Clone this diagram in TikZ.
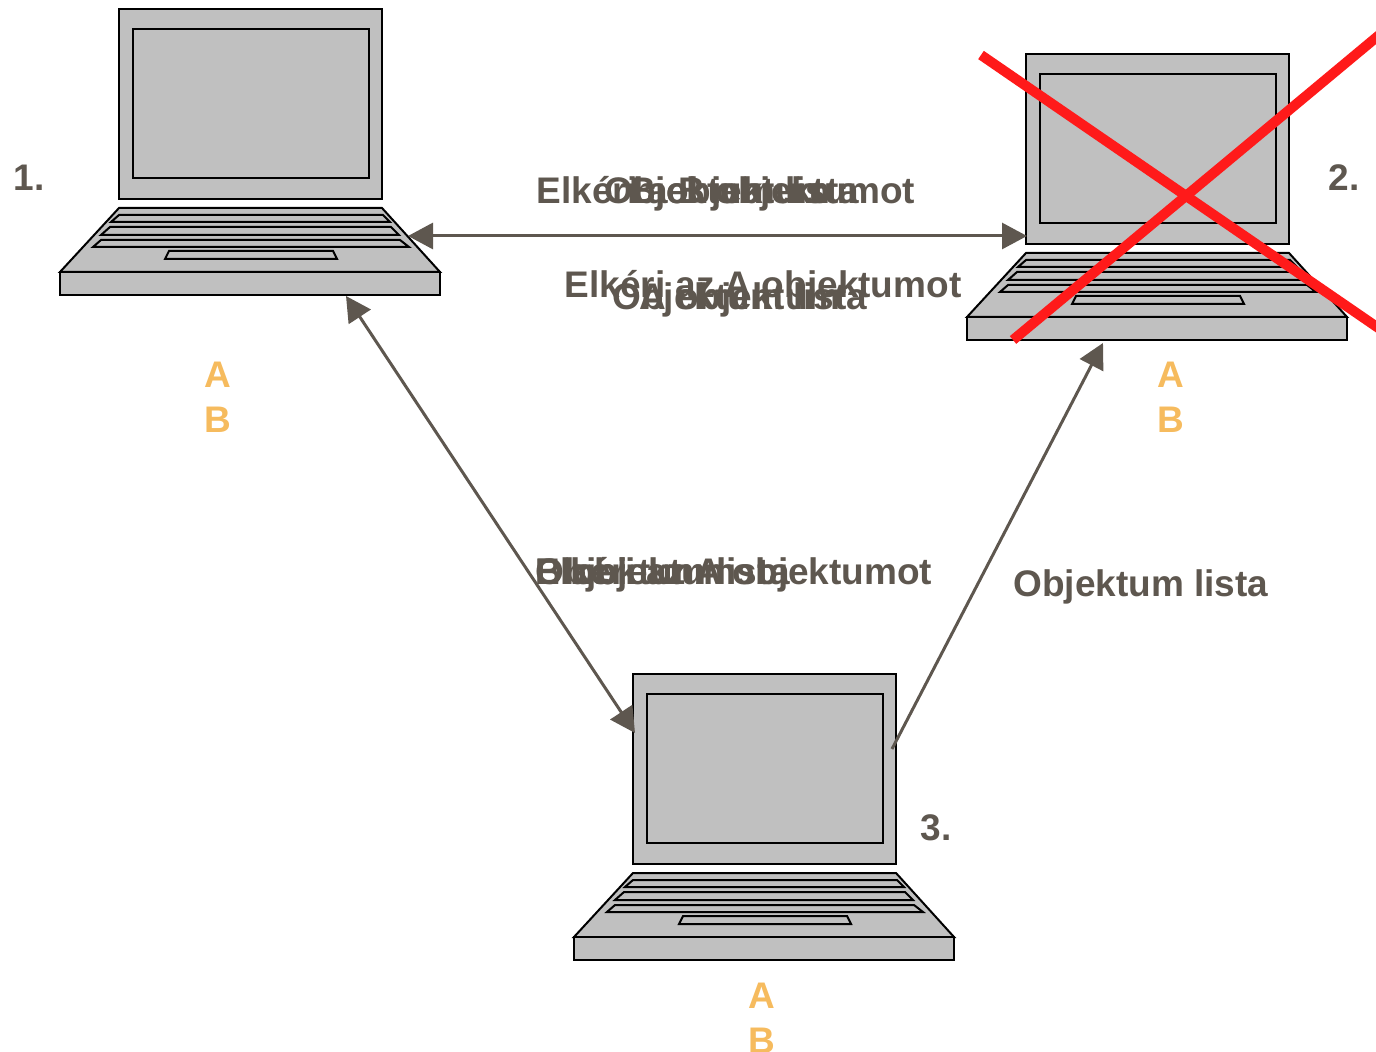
\documentclass[tikz,border=0pt]{standalone}
\usepackage{fontspec}
\setmainfont{Liberation Sans}
\usetikzlibrary{arrows.meta}

\definecolor{txtgray}{HTML}{5E574F}
\definecolor{abyellow}{HTML}{F6BB5E}
\definecolor{lapgray}{HTML}{C0C0C0}
\definecolor{crossred}{HTML}{FF1A1A}

\tikzset{
  laptop/.pic={
    \begin{scope}[line width=1pt, line join=miter]
      \draw[fill=lapgray] (0,0) rectangle (263,190);
      \draw[fill=lapgray] (14,20) rectangle (250,169);
      \draw[fill=lapgray] (0,199) -- (263,199) -- (321,263) -- (-59,263) -- cycle;
      \draw[fill=lapgray] (-59,263) rectangle (321,286);
      \draw (0,206) -- (264,206) -- (271,213) -- (-8,213) -- cycle;
      \draw (-9,218) -- (272,218) -- (280,226) -- (-18,226) -- cycle;
      \draw (-18,231) -- (281,231) -- (290,238) -- (-26,238) -- cycle;
      \draw (50,242) -- (214,242) -- (218,250) -- (46,250) -- cycle;
    \end{scope}
  }
}

\begin{document}
\begin{tikzpicture}[x=0.5pt, y=-0.5pt, >={Triangle[length=12.5pt,width=13pt]},
                    msg/.style={font=\bfseries\fontsize{18.5}{22}\selectfont, text=txtgray, anchor=base, inner sep=0pt},
                    objlabel/.style={font=\bfseries\fontsize{18.5}{22}\selectfont, text=abyellow, anchor=base, inner sep=0pt},
                    link/.style={draw=txtgray, line width=1.5pt}]

  \useasboundingbox (0,0) rectangle (1376,1052);

  % the three machines
  \pic (lap1) at (119,9) {laptop};
  \pic (lap2) at (1026,54) {laptop};
  \pic (lap3) at (633,674) {laptop};

  \node[msg] (n1) at (29,191) {1.};
  \node[msg] (n2) at (1344,191) {2.};
  \node[msg] (n3) at (936,841) {3.};

  % stored objects
  \node[objlabel] (a1) at (218,388) {A};
  \node[objlabel] (b1) at (218,433) {B};
  \node[objlabel] (a2) at (1171,388) {A};
  \node[objlabel] (b2) at (1171,433) {B};
  \node[objlabel] (a3) at (762,1008) {A};
  \node[objlabel] (b3) at (762,1053) {B};

  % arrow ends
  \coordinate (1r) at (408,236);
  \coordinate (2l) at (1027,236);
  \coordinate (1b) at (346,296);
  \coordinate (3l) at (635,733);
  \coordinate (3r) at (892,749);
  \coordinate (2b) at (1103,343);

  \draw[link,<->] (1r) -- (2l);
  \draw[link,<->] (1b) -- (3l);
  \draw[link,->] (3r) -- (2b);

  % messages
  \node[msg] (m1) at (726,204) {Elkéri a B objektumot};
  \node[msg] (m2) at (732,204) {Objektum lista};
  \node[msg] (m3) at (730,204) {B objektum};

  \node[msg] (m4) at (763,298) {Elkéri az A objektumot};
  \node[msg] (m5) at (740,310) {Objektum lista};
  \node[msg] (m6) at (740,310) {A objektum};

  \node[msg,anchor=base west] (m7) at (535,585) {Elkéri az A objektumot};
  \node[msg,anchor=base west] (m8) at (535,585) {Objektum lista};
  \node[msg,anchor=base west] (m9) at (535,585) {B objektum};

  \node[msg,anchor=base west] (m10) at (1013,597) {Objektum lista};

  % machine 2 is down
  \draw[crossred, line width=5pt] (981,55) -- (1390,336);
  \draw[crossred, line width=5pt] (1013,340) -- (1390,26);
\end{tikzpicture}
\end{document}
